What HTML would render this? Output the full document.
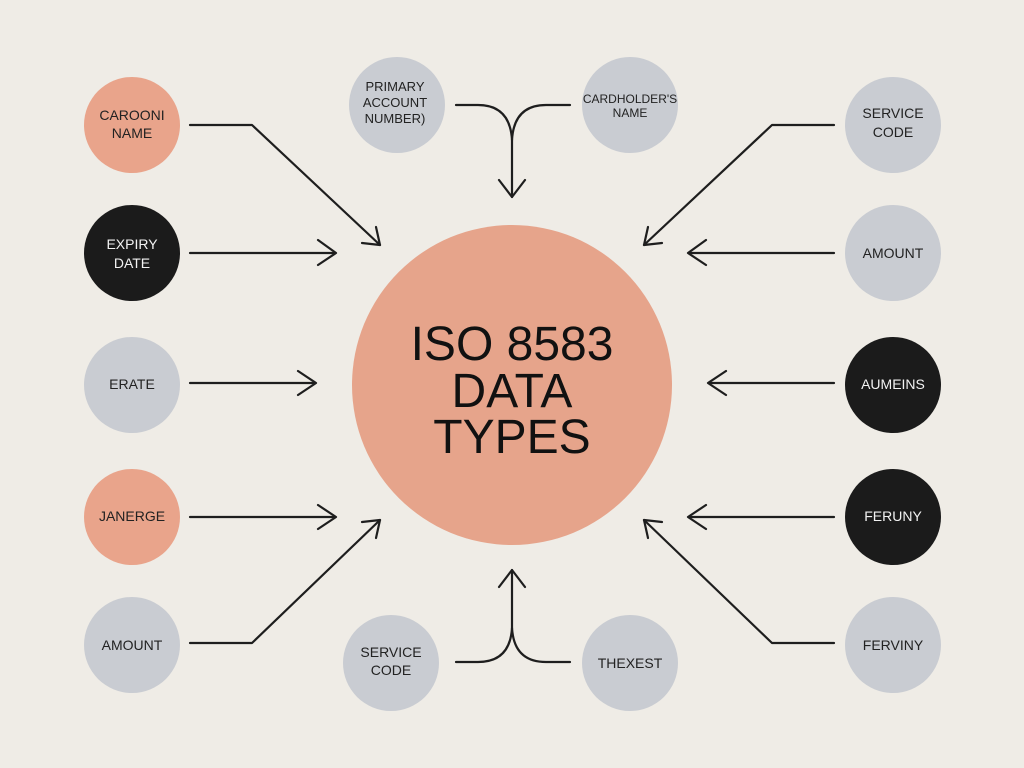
<!DOCTYPE html>
<html><head><meta charset="utf-8"><style>
html,body{margin:0;padding:0;background:#efece6;}
svg{display:block}
text{font-family:"Liberation Sans",Arial,sans-serif;text-anchor:middle}
</style></head><body>
<svg width="1024" height="768" viewBox="0 0 1024 768" xmlns="http://www.w3.org/2000/svg">
<rect width="1024" height="768" fill="#efece6"/>
<g fill="none" stroke="#1e1e1e" stroke-width="2.2" stroke-linecap="round" stroke-linejoin="round">
<!-- left -->
<path d="M190 125 H252 L380 245"/><path d="M376 227 L380 245 L362 243"/>
<path d="M190 253 H335"/><path d="M318 240 L336 253 L318 265"/>
<path d="M190 383 H315"/><path d="M298 371 L316 383 L298 395"/>
<path d="M190 517 H335"/><path d="M318 505 L336 517 L318 529"/>
<path d="M190 643 H252 L380 520"/><path d="M362 522 L380 520 L376 538"/>
<!-- right -->
<path d="M834 125 H772 L644 245"/><path d="M648 227 L644 245 L662 243"/>
<path d="M834 253 H689"/><path d="M706 240 L688 253 L706 265"/>
<path d="M834 383 H709"/><path d="M726 371 L708 383 L726 395"/>
<path d="M834 517 H689"/><path d="M706 505 L688 517 L706 529"/>
<path d="M834 643 H772 L644 520"/><path d="M662 522 L644 520 L648 538"/>
<!-- top -->
<path d="M456 105 H478 Q510 105 512 140 V197"/><path d="M570 105 H546 Q514 105 512 140"/>
<path d="M499 180 L512 197 L525 180"/>
<!-- bottom -->
<path d="M456 662 H478 Q510 662 512 628 V570"/><path d="M570 662 H546 Q514 662 512 628"/>
<path d="M499 587 L512 570 L525 587"/>
</g>
<circle cx="512" cy="385" r="160" fill="#e6a48b"/>
<g font-size="48" fill="#111">
<text x="512" y="360">ISO 8583</text><text x="512" y="407">DATA</text><text x="512" y="453">TYPES</text>
</g>
<g font-size="14">
<circle cx="132" cy="125" r="48" fill="#e9a48b"/><text x="132" y="120" fill="#222">CAROONI</text><text x="132" y="138" fill="#222">NAME</text>
<circle cx="132" cy="253" r="48" fill="#1b1b1b"/><text x="132" y="249" fill="#f2f2f2">EXPIRY</text><text x="132" y="268" fill="#f2f2f2">DATE</text>
<circle cx="132" cy="385" r="48" fill="#c9ccd2"/><text x="132" y="389" fill="#222">ERATE</text>
<circle cx="132" cy="517" r="48" fill="#e9a48b"/><text x="132" y="521" fill="#222">JANERGE</text>
<circle cx="132" cy="645" r="48" fill="#c9ccd2"/><text x="132" y="650" fill="#222">AMOUNT</text>
<circle cx="893" cy="125" r="48" fill="#c9ccd2"/><text x="893" y="118" fill="#222">SERVICE</text><text x="893" y="137" fill="#222">CODE</text>
<circle cx="893" cy="253" r="48" fill="#c9ccd2"/><text x="893" y="258" fill="#222">AMOUNT</text>
<circle cx="893" cy="385" r="48" fill="#1b1b1b"/><text x="893" y="389" fill="#f2f2f2">AUMEINS</text>
<circle cx="893" cy="517" r="48" fill="#1b1b1b"/><text x="893" y="521" fill="#f2f2f2">FERUNY</text>
<circle cx="893" cy="645" r="48" fill="#c9ccd2"/><text x="893" y="650" fill="#222">FERVINY</text>
<circle cx="397" cy="105" r="48" fill="#c9ccd2"/><text x="395" y="91" fill="#222" font-size="13">PRIMARY</text><text x="395" y="107" fill="#222" font-size="13">ACCOUNT</text><text x="395" y="123" fill="#222" font-size="13">NUMBER)</text>
<circle cx="630" cy="105" r="48" fill="#c9ccd2"/><text x="630" y="103" fill="#222" font-size="12">CARDHOLDER'S</text><text x="630" y="117" fill="#222" font-size="12">NAME</text>
<circle cx="391" cy="663" r="48" fill="#c9ccd2"/><text x="391" y="657" fill="#222">SERVICE</text><text x="391" y="675" fill="#222">CODE</text>
<circle cx="630" cy="663" r="48" fill="#c9ccd2"/><text x="630" y="668" fill="#222">THEXEST</text>
</g>
</svg>
</body></html>
